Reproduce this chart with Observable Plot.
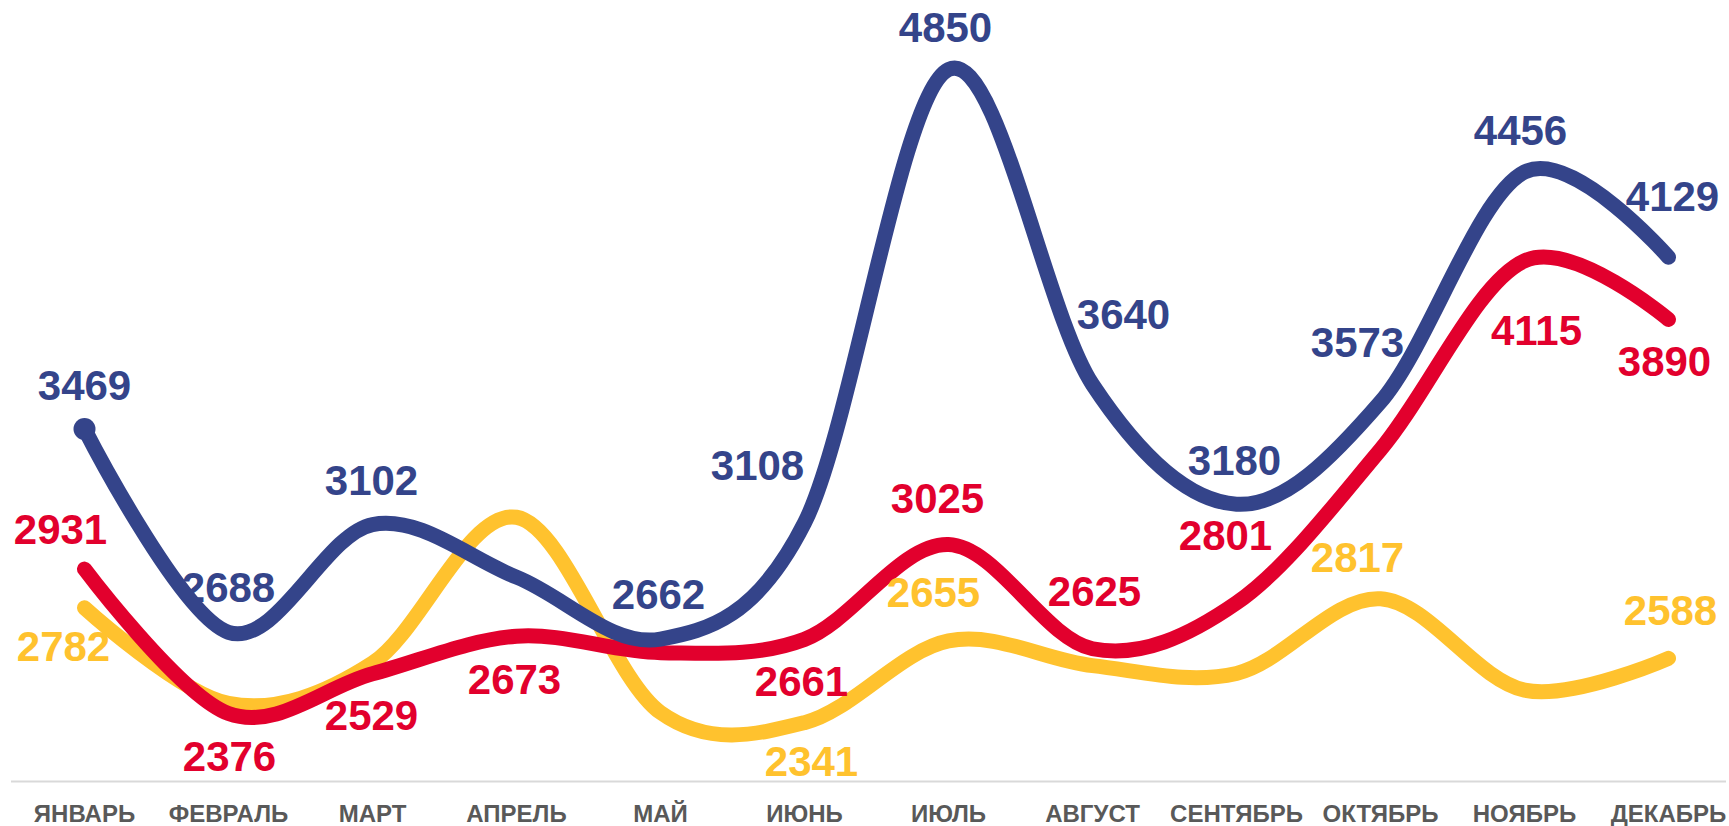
<!DOCTYPE html>
<html>
<head>
<meta charset="utf-8">
<script src="https://cdn.jsdelivr.net/npm/d3@7"></script>
<script src="https://cdn.jsdelivr.net/npm/@observablehq/plot@0.6"></script>
<style>
  html, body { margin: 0; padding: 0; background: #ffffff; }
  #chart { width: 1729px; height: 826px; overflow: hidden; }
  #chart svg { display: block; }
</style>
</head>
<body>
<div id="chart"></div>
<script>
// ---- data ----
const months = ["ЯНВАРЬ", "ФЕВРАЛЬ", "МАРТ", "АПРЕЛЬ", "МАЙ", "ИЮНЬ", "ИЮЛЬ", "АВГУСТ", "СЕНТЯБРЬ", "ОКТЯБРЬ", "НОЯБРЬ", "ДЕКАБРЬ"];
const blueValues   = [3469, 2688, 3102, 2900, 2662, 3108, 4850, 3640, 3180, 3573, 4456, 4129];
const redValues    = [2931, 2376, 2529, 2673, 2610, 2661, 3025, 2625, 2801, 3390, 4115, 3890];
const yellowValues = [2782, 2415, 2570, 3130, 2380, 2341, 2655, 2560, 2530, 2817, 2466, 2588];

// which points carry a value label (as in the reference)
const blueLabeled   = [true, true, true, false, true, true, true, true, true, true, true, true];
const redLabeled    = [true, true, true, true, false, true, true, true, true, false, true, true];
const yellowLabeled = [true, false, false, false, false, true, true, false, false, true, false, true];

// label offsets from their point (pixels)
const blueLabelDx   = [0, 0, -1, 0, -2, -47, -3, 31, -2, -23, -4, 4];
const blueLabelDy   = [-42, -44, -43, 0, -44, -56, -41, -69, -43, -58, -41, -60];
const redLabelDx    = [-24, 1, -1, -2, 0, -3, -11, 2, -11, 0, 12, -4];
const redLabelDy    = [-39, 44, 43, 44, 0, 43, -45, -56, -66, 0, 71, 43];
const yellowLabelDx = [-21, 0, 0, 0, 0, 7, -15, 0, 0, -23, 0, 2];
const yellowLabelDy = [40, 0, 0, 0, 0, 40, -47, 0, 0, -40, 0, -47];

const colors = {blue: "#34448a", red: "#e2002d", yellow: "#ffc22e"};

// ---- tables ----
function table(name, values, labeled, dx, dy) {
  return values.map((v, i) => ({series: name, month: months[i], value: v, labeled: labeled[i], dx: dx[i], dy: dy[i]}));
}
const blue = table("blue", blueValues, blueLabeled, blueLabelDx, blueLabelDy);
const red = table("red", redValues, redLabeled, redLabelDx, redLabelDy);
const yellow = table("yellow", yellowValues, yellowLabeled, yellowLabelDx, yellowLabelDy);

const font = "'Liberation Sans', Arial, Helvetica, sans-serif";

function lineMark(data, color) {
  return Plot.line(data, {
    x: "month", y: "value",
    stroke: color, strokeWidth: 15,
    curve: "cardinal", tension: 0,
    strokeLinecap: "round", strokeLinejoin: "round"
  });
}

function labelMarks(data, color) {
  return data.filter(d => d.labeled).map(d =>
    Plot.text([d], {
      x: "month", y: "value", text: d => String(d.value),
      dx: d.dx, dy: d.dy,
      fill: color, fontSize: 42, fontWeight: "bold",
      fontFamily: font, textAnchor: "middle", lineAnchor: "middle"
    })
  );
}

const chart = Plot.plot({
  width: 1729,
  height: 826,
  marginTop: 0,
  marginBottom: 45,
  marginLeft: 11,
  marginRight: 3,
  style: {background: "#ffffff", fontFamily: font, overflow: "visible"},
  x: {type: "point", domain: months, padding: 0, insetLeft: 71, insetRight: 56},
  y: {domain: [2115, 5115], axis: null},
  marks: [
    Plot.ruleY([2115], {stroke: "#d9d9d9", strokeWidth: 2}),
    lineMark(yellow, colors.yellow),
    lineMark(red, colors.red),
    lineMark(blue, colors.blue),
    Plot.dot(blue.slice(0, 1), {x: "month", y: "value", r: 11, fill: colors.blue, stroke: "none"}),
    ...labelMarks(yellow, colors.yellow),
    ...labelMarks(red, colors.red),
    ...labelMarks(blue, colors.blue),
    Plot.axisX({
      tickSize: 0, tickPadding: 23, fontSize: 24, fontWeight: "bold",
      fill: "#595959", fontFamily: font, label: null
    })
  ]
});

document.getElementById("chart").appendChild(chart);
</script>
</body>
</html>
